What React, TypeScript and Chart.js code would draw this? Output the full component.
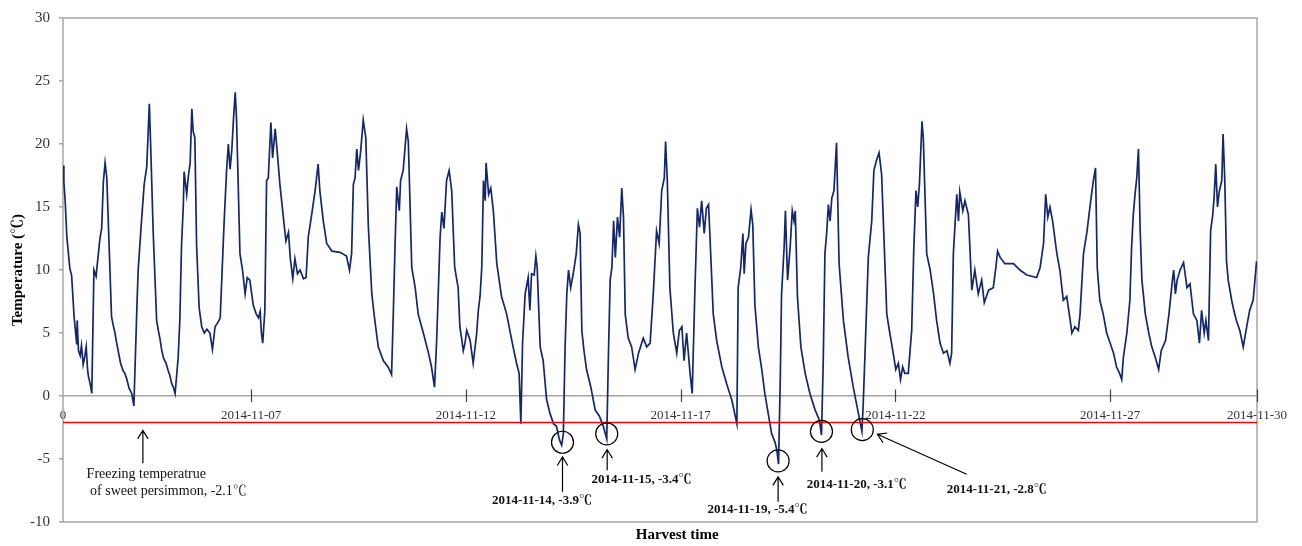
import React, { useEffect, useRef } from "react";
import { Chart, registerables } from "chart.js";

Chart.register(...registerables);

// ---- Data (x in days from the first record, y in °C) ----
const times: number[] = [
  0.00, 0.02, 0.05, 0.09, 0.16, 0.20, 0.26, 0.32, 0.33, 0.36, 0.40, 0.43, 0.47, 0.50, 0.54, 0.57, 0.59, 0.63, 0.67,
  0.72, 0.77, 0.80, 0.86, 0.90, 0.94, 0.98, 1.02, 1.13, 1.17, 1.21, 1.25, 1.29, 1.34, 1.40, 1.44, 1.48, 1.54, 1.60, 1.65,
  1.72, 1.75, 1.83, 1.89, 1.95, 2.01, 2.04, 2.10, 2.18, 2.22, 2.26, 2.30, 2.34, 2.40, 2.45, 2.49, 2.53, 2.57, 2.61,
  2.68, 2.72, 2.76, 2.80, 2.82, 2.88, 2.92, 2.96, 3.00, 3.03, 3.07, 3.11, 3.17, 3.23, 3.29, 3.35, 3.42, 3.48, 3.54, 3.60, 3.66,
  3.75, 3.81, 3.85, 3.89, 3.93, 3.97, 4.01, 4.04, 4.12, 4.18, 4.24, 4.29, 4.35, 4.43, 4.50, 4.55, 4.59, 4.62, 4.65, 4.70,
  4.74, 4.78, 4.84, 4.88, 4.94, 4.98, 5.05, 5.13, 5.19, 5.25, 5.29, 5.35, 5.40, 5.46, 5.52, 5.60, 5.66,
  5.71, 5.79, 5.87, 5.94, 5.98, 6.06, 6.14, 6.26, 6.45, 6.60, 6.67, 6.72,
  6.76, 6.80, 6.84, 6.88, 6.93, 6.99, 7.05, 7.11, 7.19, 7.26, 7.34, 7.46, 7.57, 7.65,
  7.69, 7.73, 7.77, 7.83, 7.86, 7.92, 8.00, 8.04, 8.12, 8.20, 8.27, 8.39, 8.51, 8.58, 8.65,
  8.70, 8.78, 8.82, 8.87, 8.93, 8.99, 9.05, 9.12, 9.20, 9.24, 9.28, 9.32, 9.36, 9.40, 9.48, 9.55, 9.63, 9.67, 9.71, 9.75,
  9.79, 9.83, 9.85, 9.91, 9.96, 10.02, 10.10, 10.21, 10.33, 10.45, 10.56, 10.62, 10.66,
  10.70, 10.76, 10.83, 10.87, 10.91, 10.97, 11.01, 11.04, 11.11, 11.18, 11.26, 11.34, 11.42, 11.49, 11.56, 11.61, 11.65,
  11.69, 11.73, 11.77, 11.82, 11.88, 11.95, 12.00, 12.04, 12.08, 12.13, 12.19, 12.29, 12.39, 12.49, 12.58, 12.66,
  12.70, 12.74, 12.78, 12.82, 12.86, 12.91, 12.96, 13.01, 13.05, 13.09, 13.16, 13.24, 13.32, 13.40, 13.51, 13.59, 13.67,
  13.74, 13.82, 13.88, 13.94, 14.00, 14.03, 14.07, 14.13, 14.21, 14.29, 14.35, 14.41, 14.46, 14.52, 14.60, 14.65,
  14.71, 14.77, 14.82, 14.87, 14.93, 14.98, 15.03, 15.06, 15.14, 15.22, 15.34, 15.45, 15.57, 15.69,
  15.72, 15.78, 15.83, 15.86, 15.90, 15.96, 16.02, 16.06, 16.11, 16.19, 16.27, 16.34, 16.42, 16.50, 16.58, 16.62, 16.66,
  16.70, 16.73, 16.79, 16.82, 16.87, 16.93, 16.98, 17.02, 17.05, 17.10, 17.18, 17.28, 17.39, 17.51, 17.61, 17.66,
  17.70, 17.74, 17.78, 17.82, 17.86, 17.90, 17.95, 18.01, 18.07, 18.17, 18.28, 18.40, 18.52, 18.60,
  18.63, 18.70, 18.75, 18.83, 18.88, 18.94, 19.00, 19.06, 19.14, 19.18, 19.25, 19.33, 19.39, 19.45, 19.50, 19.55, 19.60, 19.68,
  19.76, 19.81, 19.86, 19.90, 19.94, 20.00, 20.03, 20.11, 20.19, 20.27, 20.34, 20.42, 20.50, 20.58, 20.65, 20.69,
  20.73, 20.81, 20.85, 20.88, 20.95, 21.00, 21.08, 21.16, 21.23, 21.31, 21.39, 21.45, 21.55, 21.66,
  21.72, 21.76, 21.82, 21.93, 22.13, 22.28, 22.44, 22.67, 22.75,
  22.83, 22.88, 22.93, 22.98, 23.04, 23.14, 23.21, 23.29, 23.37, 23.45, 23.49, 23.56, 23.64, 23.68,
  23.76, 23.84, 23.91, 23.99, 24.04, 24.08, 24.14, 24.22, 24.30, 24.38, 24.46, 24.53, 24.60, 24.65,
  24.69, 24.77, 24.84, 24.88, 24.92, 24.96, 25.00, 25.04, 25.08, 25.12, 25.20, 25.28, 25.35, 25.43, 25.51,
  25.57, 25.67, 25.75, 25.83, 25.86, 25.90, 25.94, 26.01, 26.09, 26.17, 26.24, 26.32, 26.40, 26.46, 26.51, 26.57, 26.61, 26.67,
  26.72, 26.77, 26.80, 26.84, 26.88, 26.92, 26.98, 27.01, 27.05, 27.09, 27.13, 27.21, 27.26, 27.32, 27.40, 27.48,
  27.56, 27.63, 27.71, 27.79,
];

const temps: number[] = [
  18.3, 17.0, 15.5, 12.6, 10.1, 9.6, 6.2, 4.1, 6.0, 3.6, 3.2, 4.0, 2.5, 3.0, 3.9, 2.2, 1.6, 1.0, 0.2,
  10.0, 9.5, 10.5, 12.5, 13.3, 17.0, 18.5, 17.3, 6.3, 5.6, 5.0, 4.2, 3.5, 2.6, 2.0, 1.8, 1.4, 0.6, 0.2, -0.8,
  7.0, 10.0, 14.0, 16.8, 18.2, 23.2, 20.0, 13.0, 6.0, 5.2, 4.5, 3.6, 3.0, 2.6, 2.0, 1.6, 1.0, 0.7, 0.2,
  3.0, 6.0, 12.0, 15.0, 17.8, 16.0, 17.5, 18.5, 22.8, 21.0, 20.5, 12.0, 7.0, 5.5, 5.0, 5.3, 5.0, 3.7, 5.5, 5.8, 6.2,
  13.7, 18.0, 20.0, 18.0, 19.5, 22.0, 24.1, 22.0, 11.3, 10.0, 8.1, 9.4, 9.2, 7.2, 6.5, 6.2, 6.7, 5.0, 4.2, 6.8,
  17.1, 17.3, 21.7, 18.9, 21.2, 19.7, 16.8, 14.2, 12.3, 13.0, 11.0, 9.3, 10.9, 9.7, 10.0, 9.3, 9.4,
  12.6, 14.4, 16.3, 18.4, 16.3, 13.9, 12.1, 11.5, 11.4, 11.1, 10.0, 11.3,
  16.8, 17.3, 19.6, 17.9, 19.4, 21.9, 20.5, 13.4, 8.1, 6.0, 3.9, 2.8, 2.3, 1.7,
  6.5, 11.8, 16.6, 14.7, 17.1, 17.9, 21.2, 20.2, 10.2, 8.6, 6.5, 5.0, 3.4, 2.3, 0.7,
  4.4, 12.6, 14.6, 13.3, 17.1, 17.9, 16.3, 10.2, 8.6, 5.5, 4.6, 3.6, 4.2, 5.2, 4.4, 2.6, 4.9, 6.8, 7.9, 10.2,
  17.1, 15.5, 18.5, 16.0, 16.5, 14.7, 10.5, 7.9, 6.5, 4.4, 2.6, 1.8, -2.2,
  4.2, 8.1, 9.4, 6.8, 9.7, 9.6, 11.1, 10.2, 3.9, 2.8, -0.3, -1.4, -2.2, -2.4, -3.5, -3.9, -3.0,
  3.9, 8.1, 10.0, 8.6, 9.7, 11.3, 13.6, 12.9, 5.2, 3.6, 2.1, 0.7, -1.1, -1.6, -2.4, -3.4,
  3.4, 9.2, 10.2, 13.9, 11.0, 14.2, 12.6, 16.5, 14.2, 6.5, 4.6, 3.9, 2.1, 3.4, 4.6, 3.9, 4.2,
  7.9, 13.1, 12.1, 16.3, 17.3, 20.2, 17.1, 8.6, 5.0, 3.4, 5.2, 5.5, 2.8, 5.0, 1.8, 0.2,
  8.1, 14.9, 13.4, 15.5, 12.9, 14.9, 15.2, 12.9, 6.5, 4.4, 2.3, 1.0, -0.3, -2.2,
  8.6, 10.2, 12.9, 9.7, 12.1, 12.6, 14.8, 13.6, 7.2, 3.9, 2.1, 0.2, -1.4, -3.0, -3.7, -4.3, -5.4,
  1.3, 8.1, 11.8, 14.7, 9.2, 11.8, 14.7, 13.9, 14.7, 7.9, 3.9, 1.8, 0.2, -1.1, -1.9, -3.1,
  2.6, 11.3, 12.9, 15.2, 13.9, 15.7, 16.3, 20.1, 10.5, 6.0, 3.1, 0.7, -1.4, -2.8,
  -0.8, 6.0, 11.0, 13.9, 17.9, 18.7, 19.3, 17.6, 10.2, 6.5, 5.0, 3.4, 2.1, 2.6, 1.3, 2.3, 1.8, 1.8,
  5.2, 11.8, 16.3, 15.0, 16.8, 21.8, 20.5, 11.3, 10.0, 8.1, 6.0, 4.2, 3.4, 3.6, 2.6, 3.4,
  11.3, 16.0, 13.9, 16.2, 14.7, 15.5, 14.4, 8.4, 10.0, 8.1, 9.2, 7.4, 8.4, 8.6,
  10.2, 11.5, 11.0, 10.5, 10.5, 10.0, 9.6, 9.4, 10.2,
  12.1, 16.0, 14.2, 15.0, 13.9, 11.3, 10.0, 7.6, 7.9, 6.0, 5.0, 5.5, 5.2, 6.5,
  11.3, 13.0, 15.0, 17.1, 18.1, 10.2, 7.6, 6.5, 5.0, 4.2, 3.4, 2.3, 1.8, 1.3,
  3.1, 5.0, 7.6, 11.8, 14.4, 16.0, 17.3, 19.6, 13.1, 9.2, 6.5, 5.0, 3.9, 3.1, 2.1,
  3.6, 4.4, 6.5, 9.2, 10.0, 8.1, 9.2, 10.0, 10.6, 8.6, 8.9, 6.5, 6.0, 4.2, 6.8, 5.0, 6.0, 4.4,
  13.1, 14.4, 15.7, 18.4, 15.0, 16.2, 17.1, 20.8, 17.1, 10.7, 9.2, 7.6, 6.8, 6.0, 5.2, 3.9,
  5.5, 6.8, 7.6, 10.7,
];

const freezingTemp = -2.1;
const xMin = 0;
const xMax = 27.8;
const xTickValues: number[] = [0, 4.38, 9.38, 14.38, 19.38, 24.38, 27.8];
const xTickLabels: string[] = ["0", "2014-11-07", "2014-11-12", "2014-11-17", "2014-11-22", "2014-11-27", "2014-11-30"];
const yMin = -10;
const yMax = 30;
const yStep = 5;

// annotations (data coordinates)
const minLabels: string[] = ["2014-11-14, -3.9℃", "2014-11-15, -3.4℃", "2014-11-19, -5.4℃", "2014-11-20, -3.1℃", "2014-11-21, -2.8℃"];
const circleDays: number[] = [11.63, 12.66, 16.65, 17.66, 18.61];
const circleTemps: number[] = [-3.67, -3.0, -5.15, -2.81, -2.67];
const arrowTailDays: number[] = [11.63, 12.67, 16.65, 17.67, 21.04];
const arrowTailTemps: number[] = [-7.6, -5.89, -8.4, -6.02, -6.21];
const arrowHeadDays: number[] = [11.63, 12.67, 16.65, 17.67, 18.96];
const arrowHeadTemps: number[] = [-4.84, -4.25, -6.42, -4.17, -3.04];
const labelDays: number[] = [11.15, 13.47, 16.17, 18.48, 21.74];
const labelTemps: number[] = [-8.58, -6.94, -9.31, -7.27, -7.68];

const freezeLines: string[] = ["Freezing temperatrue", " of sweet persimmon, -2.1℃"];
const freezeArrowDay = 1.86;
const freezeArrowTail = -5.34;
const freezeArrowHead = -2.73;
const freezeTextDay = 0.55;
const freezeTextTemps: number[] = [-6.52, -7.87];

const SERIF = "'Liberation Serif', 'Times New Roman', 'Noto Serif CJK SC', 'Noto Sans CJK SC', serif";

function drawArrow(ctx: CanvasRenderingContext2D, x1: number, y1: number, x2: number, y2: number) {
  ctx.beginPath();
  ctx.moveTo(x1, y1);
  ctx.lineTo(x2, y2);
  const a = Math.atan2(y2 - y1, x2 - x1);
  const len = 10;
  const spread = 0.55;
  ctx.moveTo(x2 - len * Math.cos(a - spread), y2 - len * Math.sin(a - spread));
  ctx.lineTo(x2, y2);
  ctx.lineTo(x2 - len * Math.cos(a + spread), y2 - len * Math.sin(a + spread));
  ctx.stroke();
}

const decorPlugin = {
  id: "decor",
  beforeDatasetsDraw(chart: any) {
    const { ctx, chartArea } = chart;
    ctx.save();
    ctx.strokeStyle = "#a6a6a6";
    ctx.lineWidth = 1.5;
    ctx.strokeRect(chartArea.left, chartArea.top, chartArea.right - chartArea.left, chartArea.bottom - chartArea.top);
    ctx.restore();
  },
  afterDraw(chart: any) {
    const { ctx, chartArea } = chart;
    const xs = chart.scales.x;
    const ys = chart.scales.y;
    const px = (d: number) => xs.getPixelForValue(d);
    const py = (t: number) => ys.getPixelForValue(t);
    ctx.save();

    // x tick marks crossing the axis at 0 °C
    ctx.strokeStyle = "#404040";
    ctx.lineWidth = 1.2;
    const y0 = py(0);
    xTickValues.forEach((v, i) => {
      if (i === 0) return;
      const x = Math.round(px(v)) + 0.5;
      ctx.beginPath();
      ctx.moveTo(x, y0 - 6.5);
      ctx.lineTo(x, y0 + 6);
      ctx.stroke();
    });

    // freezing annotation
    ctx.strokeStyle = "#000";
    ctx.fillStyle = "#111";
    ctx.lineWidth = 1.2;
    drawArrow(ctx, px(freezeArrowDay), py(freezeArrowTail), px(freezeArrowDay), py(freezeArrowHead));
    ctx.font = `14px ${SERIF}`;
    ctx.textAlign = "left";
    ctx.textBaseline = "alphabetic";
    freezeLines.forEach((s, i) => ctx.fillText(s, px(freezeTextDay), py(freezeTextTemps[i])));

    // minimum annotations
    ctx.font = `bold 13px ${SERIF}`;
    ctx.textAlign = "center";
    minLabels.forEach((s, i) => {
      ctx.beginPath();
      ctx.arc(px(circleDays[i]), py(circleTemps[i]), 11, 0, Math.PI * 2);
      ctx.stroke();
      drawArrow(ctx, px(arrowTailDays[i]), py(arrowTailTemps[i]), px(arrowHeadDays[i]), py(arrowHeadTemps[i]));
      ctx.fillText(s, px(labelDays[i]), py(labelTemps[i]));
    });

    // axis titles
    ctx.fillStyle = "#000";
    ctx.font = `bold 15px ${SERIF}`;
    ctx.textAlign = "center";
    ctx.fillText("Harvest time", chartArea.left + (chartArea.right - chartArea.left) * 0.5144, 539);
    ctx.translate(18, (chartArea.top + chartArea.bottom) / 2);
    ctx.rotate(-Math.PI / 2);
    ctx.textBaseline = "middle";
    ctx.fillText("Temperature (℃)", 0, 0);
    ctx.restore();
  },
};

export default function App() {
  const ref = useRef<HTMLCanvasElement | null>(null);
  useEffect(() => {
    document.body.style.margin = "0";
    const canvas = ref.current;
    if (!canvas) return;
    const chart = new Chart(canvas, {
      type: "line",
      data: {
        datasets: [
          {
            label: "Freezing temperature",
            data: [
              { x: xMin, y: freezingTemp },
              { x: xMax, y: freezingTemp },
            ],
            borderColor: "#ff0000",
            borderWidth: 1.5,
            pointRadius: 0,
            order: 0,
          },
          {
            label: "Temperature",
            data: times.map((t, i) => ({ x: t, y: temps[i] })),
            borderColor: "#14276a",
            borderWidth: 1.7,
            pointRadius: 0,
            tension: 0,
            order: 1,
          },
        ],
      },
      options: {
        responsive: false,
        animation: false,
        devicePixelRatio: 1,
        layout: { padding: { left: 0, top: 15, right: 45, bottom: 24 } },
        plugins: { legend: { display: false }, tooltip: { enabled: false } },
        scales: {
          x: {
            type: "linear",
            position: { y: 0 } as any,
            min: xMin,
            max: xMax,
            afterBuildTicks: (axis: any) => {
              axis.ticks = xTickValues.map((v) => ({ value: v }));
            },
            ticks: {
              autoSkip: false,
              maxRotation: 0,
              padding: 4,
              color: "#333",
              font: { family: SERIF, size: 13 },
              callback: (_v: any, i: number) => xTickLabels[i],
            },
            grid: { display: false },
            border: { display: true, color: "#a6a6a6", width: 1.5 },
          },
          y: {
            type: "linear",
            position: "left",
            min: yMin,
            max: yMax,
            afterFit: (s: any) => {
              s.width = 63;
            },
            ticks: {
              stepSize: yStep,
              padding: 9,
              color: "#333",
              font: { family: SERIF, size: 15 },
            },
            grid: { drawOnChartArea: false, drawTicks: true, tickLength: 4, color: "#a6a6a6", lineWidth: 1.5 },
            border: { display: false },
          },
        },
      },
      plugins: [decorPlugin],
    });
    return () => chart.destroy();
  }, []);
  return (
    <div style={{ position: "absolute", left: 0, top: 0, width: 1302, height: 546, background: "#fff" }}>
      <canvas ref={ref} width={1302} height={546} />
    </div>
  );
}
